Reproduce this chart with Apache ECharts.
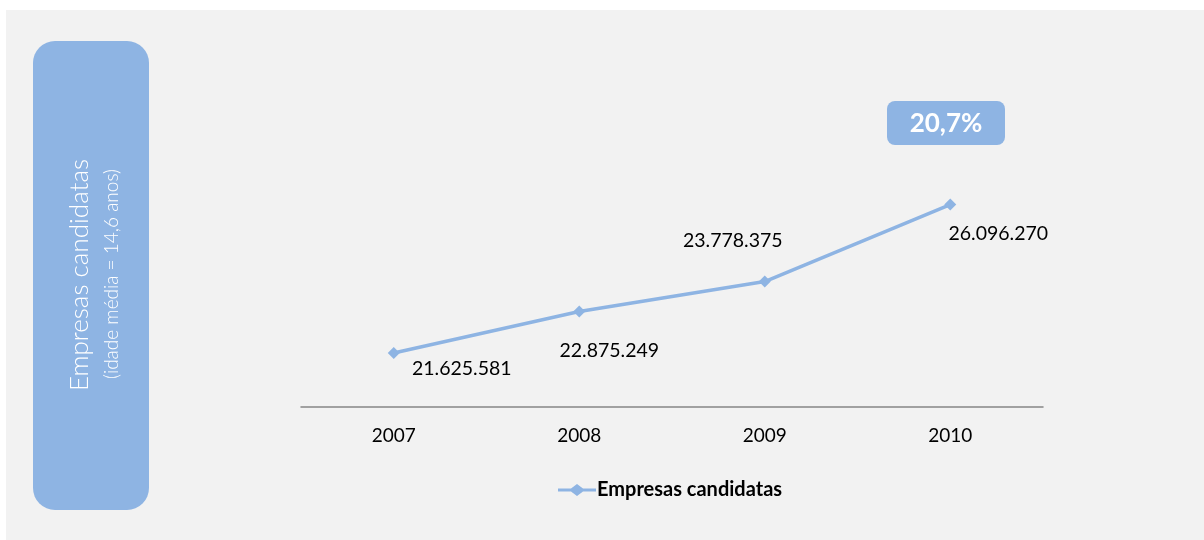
<!DOCTYPE html>
<html><head><meta charset="utf-8">
<script src="https://cdn.jsdelivr.net/npm/echarts@6/dist/echarts.min.js"></script>
<style>html,body{margin:0;padding:0;background:#fff}#c{width:1204px;height:540px}</style>
</head><body><div id="c"></div>
<script>
const categories = ['2007', '2008', '2009', '2010'];
const values = [21625581, 22875249, 23778375, 26096270];
const valueLabels = ['21.625.581', '22.875.249', '23.778.375', '26.096.270'];
const seriesName = 'Empresas candidatas';
const growthLabel = '20,7%';
const sideTitle = 'Empresas candidatas';
const sideSub = '(idade média = 14,6 anos)';

const labelOffsets = [[68, 16], [30, 39], [-32, -41], [48, 29]];
const BLUE = '#8EB4E3';
const FONT = 'Lato, "Open Sans", sans-serif';

const chart = echarts.init(document.getElementById('c'), null, {renderer: 'canvas'});
chart.setOption({
  backgroundColor: '#ffffff',
  animation: false,
  graphic: [
    {type: 'rect', left: 6, top: 10, z: -10, shape: {width: 1198, height: 530}, style: {fill: '#F2F2F2'}},
    {type: 'rect', left: 33, top: 41, shape: {width: 116, height: 469, r: 22}, style: {fill: BLUE}},
    {type: 'text', x: 80, y: 275, rotation: Math.PI / 2, style: {text: sideTitle, fill: '#fff', font: '300 26px ' + FONT, align: 'center', verticalAlign: 'middle'}},
    {type: 'text', x: 112, y: 274, rotation: Math.PI / 2, style: {text: sideSub, fill: '#fff', font: '300 19px ' + FONT, align: 'center', verticalAlign: 'middle'}},
    {type: 'rect', left: 887, top: 101, shape: {width: 118, height: 44, r: 8}, style: {fill: BLUE}},
    {type: 'text', x: 946, y: 124, style: {text: growthLabel, fill: '#fff', font: 'bold 26px ' + FONT, align: 'center', verticalAlign: 'middle'}}
  ],
  legend: {
    top: 475, left: 553,
    itemWidth: 38, itemHeight: 12, itemGap: 3,
    icon: 'path://M0,4.5 L13,4.5 L19,0 L25,4.5 L38,4.5 L38,7.5 L25,7.5 L19,12 L13,7.5 L0,7.5 Z',
    textStyle: {fontFamily: FONT, fontSize: 20, fontWeight: 'bold', color: '#000', padding: [0, 0, 0, -4]},
    data: [seriesName]
  },
  grid: {left: 301, right: 161, top: 75, bottom: 133},
  xAxis: {
    type: 'category', data: categories, boundaryGap: true,
    axisLine: {lineStyle: {color: '#868686', width: 1.5}},
    axisTick: {show: false},
    axisLabel: {fontFamily: FONT, fontSize: 19, color: '#000', margin: 19}
  },
  yAxis: {
    type: 'value', min: 20000000, max: 30000000, interval: 2000000,
    show: false, splitLine: {show: false}
  },
  series: [{
    name: seriesName, type: 'line',
    data: values.map((v, i) => ({value: v, label: {show: true, formatter: valueLabels[i], position: 'inside', offset: labelOffsets[i]}})),
    symbol: 'diamond', symbolSize: 12,
    lineStyle: {color: BLUE, width: 3.5},
    itemStyle: {color: BLUE},
    label: {fontFamily: FONT, fontSize: 19.5, color: '#000', align: 'center', verticalAlign: 'middle'}
  }]
});
</script></body></html>
